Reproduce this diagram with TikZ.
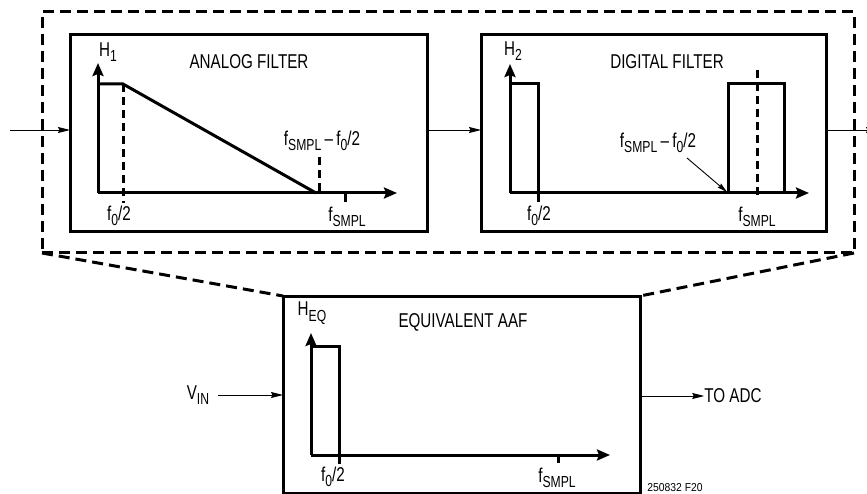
\documentclass[tikz,border=0pt]{standalone}
\usepackage{fontspec}
\setmainfont{Liberation Sans}[FakeStretch=0.76]
\newfontfamily\plainsans{Liberation Sans}[FakeStretch=0.9]
\usetikzlibrary{arrows.meta}
\newcommand{\lsub}[1]{\raisebox{-0.28em}{\fontsize{16}{16}\selectfont #1}}
\begin{document}
\begin{tikzpicture}[x=1pt,y=-1pt,
  font=\fontsize{20}{22}\selectfont,
  filterbox/.style={draw, line width=3pt, minimum width=357pt, minimum height=197pt, inner sep=0pt, outer sep=0pt},
  outerbox/.style={draw, line width=3pt, dash pattern=on 11pt off 6pt, minimum width=812pt, minimum height=241pt, inner sep=0pt, outer sep=0pt},
  plot/.style={line width=3pt},
  axis/.style={line width=3pt, -{Stealth[length=13pt,width=11pt,inset=2pt]}},
  guide/.style={line width=3pt, dash pattern=on 8pt off 5pt},
  link/.style={line width=0.9pt, -{Stealth[length=12pt,width=6pt,inset=1.5pt]}},
  pointer/.style={line width=0.9pt, -{Stealth[length=10pt,width=5pt,inset=1pt]}},
  lbl/.style={inner sep=0pt}
]
\useasboundingbox (0,0) rectangle (867,494);

% boxes
\node[outerbox] (outer) at (448,132.5) {};
\node[filterbox] (analog) at (248.5,133.5) {};
\node[filterbox, minimum width=345pt] (digital) at (653.5,133.5) {};
\node[filterbox] (equiv) at (461.5,394.5) {};

% zoom lines
\draw[guide, dash pattern=on 11pt off 6pt] (outer.south west) -- (equiv.north west);
\draw[guide, dash pattern=on 11pt off 6pt] (outer.south east) -- (equiv.north east);

% connectors
\coordinate (in) at (10,130);
\coordinate (out) at (878,130);
\draw[link] (in) -- (analog.west |- in);
\draw[link] (analog.east |- in) -- (digital.west |- in);
\draw[link] (digital.east |- in) -- (out);

% ---------- analog filter ----------
\node[lbl] (atitle) at (249,62) {ANALOG FILTER};
\coordinate (a0) at (98,193);
\draw[axis] (a0) -- (98,63);
\draw[axis] (a0) -- (397,193);
\draw[plot, line join=miter] (98,84) -- (123,84) -- (316,193);
\draw[guide] (123,84) -- (123,203);
\draw[guide] (319,157) -- (319,193);
\draw[plot] (345,193) -- (345,202);
\node[lbl] (ah) at (108,52) {H\lsub{1}};
\node[lbl] (af0) at (119,216) {f\lsub{0}/2};
\node[lbl] (afs) at (347,217) {f\lsub{SMPL}};
\node[lbl] (afd) at (322,141) {f\lsub{SMPL}\,–\,f\lsub{0}/2};

% ---------- digital filter ----------
\node[lbl] (dtitle) at (667,62) {DIGITAL FILTER};
\coordinate (d0) at (510,193);
\draw[axis] (d0) -- (510,64);
\draw[axis] (d0) -- (809,193);
\draw[plot, line join=miter] (510,84) -- (538,84) -- (538,202);
\draw[plot, line join=miter] (728,193) -- (728,84) -- (784,84) -- (784,193);
\draw[guide] (757,70) -- (757,198);
\node[lbl] (dh) at (513,51) {H\lsub{2}};
\node[lbl] (df0) at (539,216) {f\lsub{0}/2};
\node[lbl] (dfs) at (757,217) {f\lsub{SMPL}};
\node[lbl] (dfd) at (658,143) {f\lsub{SMPL}\,–\,f\lsub{0}/2};
\coordinate (dptr) at (687,158);
\coordinate (dedge) at (727,192);
\draw[pointer] (dptr) -- (dedge);

% ---------- equivalent AAF ----------
\node[lbl] (etitle) at (463,322) {EQUIVALENT AAF};
\coordinate (e0) at (311,455);
\draw[axis] (e0) -- (311,333);
\draw[axis] (e0) -- (610,455);
\draw[plot, line join=miter] (311,346) -- (339,346) -- (339,464);
\draw[plot] (558,455) -- (558,463);
\node[lbl] (eh) at (312,313) {H\lsub{EQ}};
\node[lbl] (ef0) at (333,477) {f\lsub{0}/2};
\node[lbl] (efs) at (557,478) {f\lsub{SMPL}};

% input / output
\node[lbl] (vin) at (198,395) {V\lsub{IN}};
\node[lbl] (toadc) at (733,396) {TO ADC};
\draw[link] (vin.east) ++(9,0) coordinate (vinstart) -- (equiv.west |- vinstart);
\draw[link] (equiv.east |- toadc) -- (toadc.west);
\node[lbl, font=\plainsans\fontsize{11.5}{12}\selectfont] (fig) at (675,488) {250832 F20};
\end{tikzpicture}
\end{document}
